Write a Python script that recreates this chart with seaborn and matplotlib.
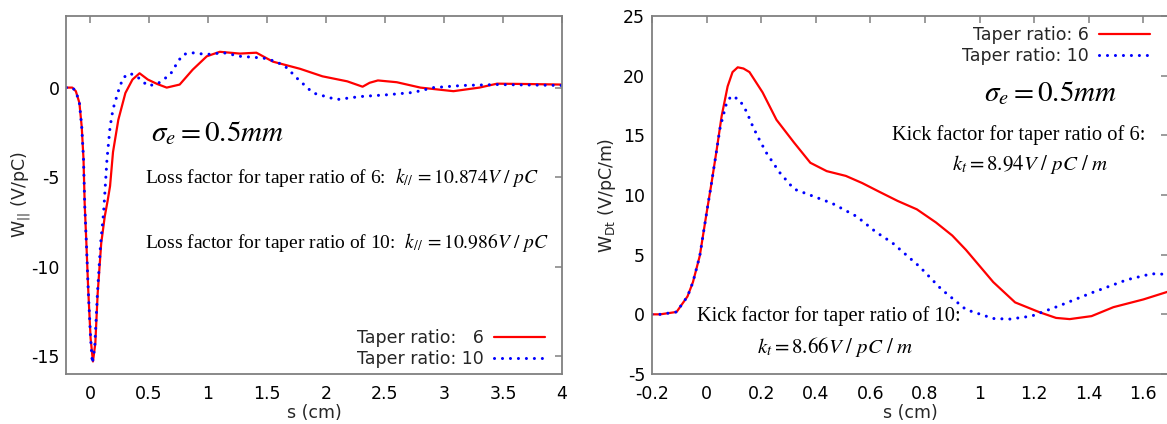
import numpy as np
import pandas as pd
import matplotlib
matplotlib.use("Agg")
import matplotlib.pyplot as plt
import seaborn as sns

# ---------------- data ----------------
# Left panel: longitudinal wake W_|| (V/pC) vs s (cm)
s_long6 = [-0.2, -0.15, -0.12, -0.09, -0.07, -0.055, -0.045, -0.03, -0.015, 0.005, 0.025,
           0.045, 0.065, 0.095, 0.125, 0.15, 0.17, 0.195, 0.24, 0.30, 0.36, 0.42, 0.49, 0.57,
           0.65, 0.76, 0.87, 0.99, 1.10, 1.27, 1.41, 1.55, 1.78, 1.97, 2.18, 2.31, 2.37, 2.44,
           2.60, 2.80, 3.08, 3.30, 3.45, 3.70, 4.0]
w_long6 = [0.0, 0.0, -0.2, -0.85, -2.2, -4.0, -6.5, -8.8, -11.3, -14.0, -15.3,
           -14.3, -11.5, -8.7, -7.2, -6.3, -5.5, -3.6, -1.8, -0.3, 0.45, 0.8, 0.45, 0.2,
           0.0, 0.17, 1.0, 1.75, 2.0, 1.9, 1.95, 1.45, 1.05, 0.63, 0.35, 0.05, 0.27, 0.4,
           0.3, 0.0, -0.2, 0.0, 0.22, 0.2, 0.17]

s_long10 = [-0.2, -0.15, -0.12, -0.09, -0.07, -0.055, -0.045, -0.03, -0.015, 0.005, 0.02,
            0.04, 0.063, 0.09, 0.115, 0.144, 0.17, 0.195, 0.24, 0.28, 0.34, 0.41, 0.49, 0.57,
            0.68, 0.75, 0.79, 0.86, 0.99, 1.13, 1.27, 1.47, 1.58, 1.67, 1.75, 1.89, 2.09,
            2.29, 2.52, 2.74, 2.91, 3.16, 3.45, 4.0]
w_long10 = [0.0, 0.0, -0.2, -0.85, -2.2, -4.0, -6.5, -8.8, -11.3, -14.0, -15.4,
            -14.5, -11.5, -8.7, -7.0, -4.0, -2.2, -1.2, -0.2, 0.55, 0.8, 0.55, 0.1, 0.2,
            0.73, 1.5, 1.85, 1.95, 1.85, 1.95, 1.75, 1.65, 1.45, 1.1, 0.55, -0.3, -0.67,
            -0.5, -0.4, -0.27, 0.0, 0.12, 0.17, 0.12]

# Right panel: transverse (dipole) wake W_Dt (V/pC/m) vs s (cm)
s_tr6 = [-0.2, -0.17, -0.11, -0.07, -0.05, -0.025, 0.0, 0.018, 0.037, 0.055, 0.077, 0.095,
         0.114, 0.135, 0.157, 0.205, 0.256, 0.32, 0.38, 0.44, 0.51, 0.57, 0.63, 0.70, 0.77,
         0.84, 0.90, 0.95, 1.05, 1.13, 1.22, 1.28, 1.33, 1.41, 1.49, 1.60, 1.69]
w_tr6 = [0.0, 0.0, 0.2, 1.5, 2.7, 4.9, 8.5, 11.0, 13.8, 16.6, 19.1, 20.3,
         20.7, 20.6, 20.3, 18.6, 16.3, 14.4, 12.7, 12.0, 11.6, 11.0, 10.3, 9.5, 8.8,
         7.7, 6.6, 5.4, 2.7, 1.0, 0.17, -0.3, -0.4, -0.15, 0.6, 1.25, 1.9]

s_tr10 = [-0.2, -0.17, -0.11, -0.07, -0.05, -0.025, 0.0, 0.018, 0.037, 0.05, 0.073, 0.09,
          0.12, 0.146, 0.17, 0.194, 0.22, 0.267, 0.32, 0.39, 0.46, 0.55, 0.62, 0.68, 0.78,
          0.86, 0.95, 1.05, 1.11, 1.19, 1.29, 1.41, 1.54, 1.63, 1.69]
w_tr10 = [0.0, 0.0, 0.2, 1.5, 2.7, 4.9, 8.5, 11.0, 13.8, 15.7, 17.7, 18.3,
          18.0, 17.0, 15.7, 14.6, 13.5, 11.9, 10.5, 9.9, 9.3, 8.2, 6.9, 6.0, 4.0,
          2.1, 0.4, -0.35, -0.4, -0.15, 0.7, 1.8, 2.9, 3.4, 3.35]

legend_left = ["Taper ratio: \u20076", "Taper ratio: 10"]
legend_right = ["\u2007Taper ratio: 6", "Taper ratio: 10"]

left_xticks = [0, 0.5, 1, 1.5, 2, 2.5, 3, 3.5, 4]
left_yticks = [-15, -10, -5, 0]
right_xticks = [-0.2, 0, 0.2, 0.4, 0.6, 0.8, 1, 1.2, 1.4, 1.6]
right_yticks = [-5, 0, 5, 10, 15, 20, 25]

# ---------------- style ----------------
sns.set_theme(style="white")
plt.rcParams["font.family"] = ["DejaVu Sans"]
GRAY = "#808080"
RED = "#ff0000"
BLUE = "#0000ff"
dotted = (0, (0.01, 2.6))

fig = plt.figure(figsize=(11.67, 4.24), dpi=100)
W, H = 1167.0, 424.0
ax1 = fig.add_axes([66.4 / W, 50 / H, 495.6 / W, 358 / H])
ax2 = fig.add_axes([652 / W, 50 / H, 516 / W, 358 / H])

def style_axes(ax):
    for sp in ax.spines.values():
        sp.set_color(GRAY)
        sp.set_linewidth(1.3)
    ax.tick_params(direction="in", top=True, right=True, length=5, width=1.1,
                   color=GRAY, labelcolor="black", labelsize=12.5, pad=5)
    ax.tick_params(axis="x", pad=8)

# left panel
sns.lineplot(x=s_long6, y=w_long6, ax=ax1, color=RED, linewidth=1.6,
             label=legend_left[0], estimator=None, sort=False)
sns.lineplot(x=s_long10, y=w_long10, ax=ax1, color=BLUE, linewidth=2.2,
             linestyle=dotted, dash_capstyle="round", label=legend_left[1],
             estimator=None, sort=False)
ax1.set_xlim(-0.2, 4.0)
ax1.set_ylim(-16, 4)
ax1.set_xticks(left_xticks)
ax1.set_xticklabels([f"{v:g}" for v in left_xticks])
ax1.set_yticks(left_yticks)
ax1.set_yticklabels([f"{v:g}" for v in left_yticks])
style_axes(ax1)
ax1.set_xlabel("s (cm)", fontsize=12.5)
ax1.set_ylabel(r"W$_{||}$ (V/pC)", fontsize=12.5)
ax1.xaxis.set_label_coords(0.5, -0.085)
ax1.yaxis.set_label_coords(-0.068, 0.5)
leg1 = ax1.legend(loc="lower right", frameon=False, markerfirst=False, fontsize=12.5,
                  handlelength=2.9, handletextpad=0.6, labelspacing=0.15,
                  borderaxespad=0.4, bbox_to_anchor=(0.993, -0.022))

serif = ["Liberation Serif", "DejaVu Serif"]
ax1.text(0.17, 0.673, r"$\sigma_e = 0.5mm$", transform=ax1.transAxes, fontsize=21,
         math_fontfamily="stix", va="center", ha="left", color="black")
ax1.text(0.159, 0.55, r"Loss factor for taper ratio of 6:  $k_{//}\,=10.874V\ /\ pC$",
         transform=ax1.transAxes, fontsize=14, family=serif, math_fontfamily="stix",
         va="center", ha="left", color="black")
ax1.text(0.159, 0.366, r"Loss factor for taper ratio of 10:  $k_{//}\,=10.986V\ /\ pC$",
         transform=ax1.transAxes, fontsize=14, family=serif, math_fontfamily="stix",
         va="center", ha="left", color="black")

# right panel
sns.lineplot(x=s_tr6, y=w_tr6, ax=ax2, color=RED, linewidth=1.6,
             label=legend_right[0], estimator=None, sort=False)
sns.lineplot(x=s_tr10, y=w_tr10, ax=ax2, color=BLUE, linewidth=2.2,
             linestyle=dotted, dash_capstyle="round", label=legend_right[1],
             estimator=None, sort=False)
ax2.set_xlim(-0.2, 1.69)
ax2.set_ylim(-5, 25)
ax2.set_xticks(right_xticks)
ax2.set_xticklabels([f"{v:g}" for v in right_xticks])
ax2.set_yticks(right_yticks)
ax2.set_yticklabels([f"{v:g}" for v in right_yticks])
style_axes(ax2)
ax2.set_xlabel("s (cm)", fontsize=12.5)
ax2.set_ylabel(r"W$_{\mathrm{Dt}}$ (V/pC/m)", fontsize=12.5)
ax2.xaxis.set_label_coords(0.5, -0.085)
ax2.yaxis.set_label_coords(-0.065, 0.5)
leg2 = ax2.legend(loc="upper right", frameon=False, markerfirst=False, fontsize=12.5,
                  handlelength=2.9, handletextpad=0.6, labelspacing=0.15,
                  borderaxespad=0.2, bbox_to_anchor=(0.985, 1.0))

ax2.text(0.644, 0.785, r"$\sigma_e = 0.5mm$", transform=ax2.transAxes, fontsize=21,
         math_fontfamily="stix", va="center", ha="left", color="black")
ax2.text(0.957, 0.668, "Kick factor for taper ratio of 6:", transform=ax2.transAxes,
         fontsize=14.8, family=serif, va="center", ha="right", color="black")
ax2.text(0.582, 0.584, r"$k_t = 8.94V\ /\ pC\ /\ m$", transform=ax2.transAxes,
         fontsize=15, math_fontfamily="stix", va="center", ha="left", color="black")
ax2.text(0.087, 0.162, "Kick factor for taper ratio of 10:", transform=ax2.transAxes,
         fontsize=14.8, family=serif, va="center", ha="left", color="black")
ax2.text(0.203, 0.075, r"$k_t = 8.66V\ /\ pC\ /\ m$", transform=ax2.transAxes,
         fontsize=15, math_fontfamily="stix", va="center", ha="left", color="black")

fig.savefig("out.png", dpi=100)
